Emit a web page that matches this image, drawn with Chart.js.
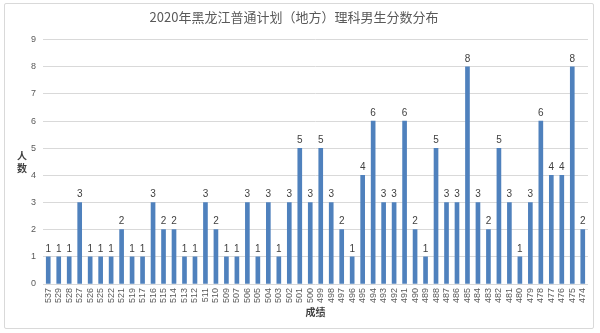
<!DOCTYPE html>
<html><head><meta charset="utf-8">
<script src="https://cdn.jsdelivr.net/npm/chart.js@4/dist/chart.umd.min.js"></script>
<style>
html,body{margin:0;padding:0;background:#fff;}
#wrap{position:relative;width:600px;height:333px;}
#frame{position:absolute;left:4px;top:3px;width:588px;height:324px;border:1px solid #d9d9d9;border-radius:2px;}
canvas{position:absolute;left:0;top:0;}
</style></head>
<body><div id="wrap"><div id="frame"></div><canvas id="c" width="600" height="333"></canvas></div>
<script>
const titleText = '2020年黑龙江普通计划（地方）理科男生分数分布';
const xTitle = '成绩';
const yTitle = '人数';
const scores = ['537','529','528','527','526','525','522','521','519','517','516','515','514','513','512','511','510','509','507','506','505','504','503','502','501','500','499','498','497','496','495','494','493','492','491','490','489','488','487','486','485','484','483','482','481','480','479','478','477','476','475','474'];
const counts = [1,1,1,3,1,1,1,2,1,1,3,2,2,1,1,3,2,1,1,3,1,3,1,3,5,3,5,3,2,1,4,6,3,3,6,2,1,5,3,3,8,3,2,5,3,1,3,6,4,4,8,2];

const FONT = "'Noto Sans CJK SC','Liberation Sans',sans-serif";

const extras = {
  id: 'extras',
  afterDatasetsDraw(chart) {
    const ctx = chart.ctx;
    const meta = chart.getDatasetMeta(0);
    ctx.save();
    ctx.fillStyle = '#404040';
    ctx.font = "10px 'Liberation Sans',sans-serif";
    ctx.textAlign = 'center';
    ctx.textBaseline = 'bottom';
    meta.data.forEach((bar, i) => {
      ctx.fillText(String(counts[i]), bar.x, bar.y - 3);
    });
    ctx.restore();
  },
  afterDraw(chart) {
    const ctx = chart.ctx;
    const a = chart.chartArea;
    ctx.save();
    ctx.fillStyle = '#404040';
    ctx.font = "bold 10px " + FONT;
    ctx.textAlign = 'center';
    ctx.textBaseline = 'middle';
    ctx.fillText(xTitle, (a.left + a.right) / 2, 312);
    const cy = (a.top + a.bottom) / 2;
    ctx.fillText(yTitle[0], 22, cy - 6);
    ctx.fillText(yTitle[1], 22, cy + 6);
    ctx.restore();
  }
};

new Chart(document.getElementById('c'), {
  type: 'bar',
  data: {
    labels: scores,
    datasets: [{
      data: counts,
      backgroundColor: '#4F81BD',
      barThickness: 4
    }]
  },
  options: {
    responsive: false,
    animation: false,
    layout: { padding: { left: 0, right: 12, top: 0, bottom: 0 } },
    plugins: {
      legend: { display: false },
      tooltip: { enabled: false },
      title: {
        display: true,
        text: titleText,
        color: '#595959',
        font: { family: FONT, size: 13, weight: 'normal' },
        padding: { top: 9, bottom: 15 }
      }
    },
    scales: {
      x: {
        grid: { display: false, drawTicks: false },
        border: { display: false },
        ticks: {
          color: '#595959',
          font: { family: "'Liberation Sans',sans-serif", size: 9 },
          minRotation: 90, maxRotation: 90,
          autoSkip: false,
          padding: 4
        },
        afterFit(s) { s.height = 49; }
      },
      y: {
        min: 0, max: 9,
        grid: { color: '#d9d9d9', drawTicks: false },
        border: { display: false },
        ticks: {
          stepSize: 1,
          color: '#595959',
          font: { family: "'Liberation Sans',sans-serif", size: 9 },
          padding: 7
        },
        afterFit(s) { s.width = 43; }
      }
    }
  },
  plugins: [extras]
});
</script>
</body></html>
